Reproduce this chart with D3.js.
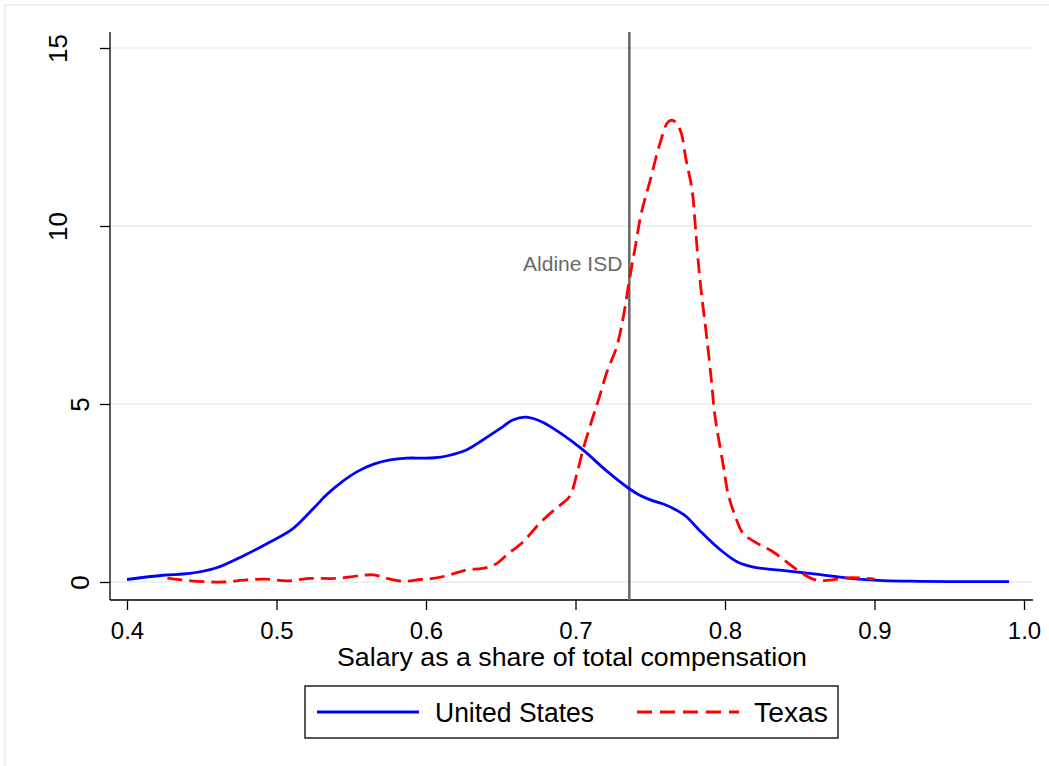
<!DOCTYPE html>
<html>
<head>
<meta charset="utf-8">
<script src="https://cdn.jsdelivr.net/npm/d3@7"></script>
<style>
  body { margin: 0; background: #fff; }
  text { font-family: "Liberation Sans", Arial, sans-serif; fill: #000; }
</style>
</head>
<body>
<div id="chart"></div>
<script>
// Kernel density of salary share: United States
const usShare = [0.400, 0.424, 0.442, 0.460, 0.478, 0.496, 0.511, 0.525, 0.534, 0.544,
  0.554, 0.565, 0.576, 0.587, 0.600, 0.610, 0.616, 0.627, 0.638, 0.650, 0.658, 0.667,
  0.678, 0.690, 0.705, 0.720, 0.736, 0.743, 0.752, 0.760, 0.767, 0.774, 0.783, 0.797,
  0.808, 0.819, 0.841, 0.861, 0.884, 0.906, 0.930, 0.960, 0.990];
const usDensity = [0.07, 0.19, 0.24, 0.40, 0.74, 1.13, 1.50, 2.08, 2.47, 2.82,
  3.10, 3.31, 3.43, 3.48, 3.48, 3.51, 3.56, 3.71, 3.99, 4.32, 4.55, 4.63,
  4.49, 4.18, 3.71, 3.15, 2.62, 2.44, 2.28, 2.17, 2.03, 1.84, 1.45, 0.90,
  0.57, 0.42, 0.31, 0.22, 0.10, 0.04, 0.02, 0.01, 0.01];

// Kernel density of salary share: Texas
const txShare = [0.427, 0.447, 0.464, 0.480, 0.493, 0.507, 0.522, 0.540, 0.556, 0.565,
  0.574, 0.585, 0.596, 0.605, 0.616, 0.627, 0.638, 0.647, 0.654, 0.665, 0.676, 0.687,
  0.696, 0.701, 0.705, 0.711, 0.716, 0.721, 0.7275, 0.732, 0.736, 0.740, 0.744, 0.750,
  0.7565, 0.762, 0.7655, 0.770, 0.774, 0.778, 0.780, 0.782, 0.7845, 0.788, 0.791, 0.793,
  0.7955, 0.799, 0.802, 0.807, 0.812, 0.821, 0.832, 0.841, 0.850, 0.859, 0.866, 0.875,
  0.885, 0.900];
const txDensity = [0.11, 0.02, 0.00, 0.06, 0.08, 0.03, 0.10, 0.10, 0.18, 0.20,
  0.10, 0.02, 0.07, 0.10, 0.20, 0.34, 0.38, 0.51, 0.76, 1.13, 1.65, 2.07,
  2.40, 3.05, 3.71, 4.55, 5.20, 5.90, 6.60, 7.45, 8.48, 9.42, 10.36, 11.29,
  12.32, 12.93, 12.96, 12.70, 11.85, 11.01, 10.08, 9.04, 8.01, 6.80, 5.62, 4.75,
  4.08, 3.24, 2.49, 1.83, 1.37, 1.10, 0.85, 0.57, 0.29, 0.08, 0.04, 0.08,
  0.12, 0.08];

const xTicks = [0.4, 0.5, 0.6, 0.7, 0.8, 0.9, 1.0];
const yTicks = [0, 5, 10, 15];
const aldineShare = 0.736;
const seriesNames = ["United States", "Texas"];

const width = 1049, height = 766;
const plotLeft = 110, plotRight = 1033, plotTop = 32, plotBottom = 600;

const svg = d3.select("#chart").append("svg")
  .attr("width", width)
  .attr("height", height);

// outer frame (Stata graph region)
svg.append("rect")
  .attr("x", 5).attr("y", 5)
  .attr("width", width + 10).attr("height", height + 10)
  .attr("fill", "#fff")
  .attr("stroke", "#eaf2f3")
  .attr("stroke-width", 2);

const x = d3.scaleLinear().domain([0.4, 1.0]).range([127, 1024]);
const y = d3.scaleLinear().domain([0, 15]).range([582, 48]);

// gridlines
svg.append("g")
  .selectAll("line")
  .data(yTicks)
  .join("line")
  .attr("x1", plotLeft).attr("x2", plotRight)
  .attr("y1", d => y(d)).attr("y2", d => y(d))
  .attr("stroke", "#eaf2f3")
  .attr("stroke-width", 2);

// x axis
const xAxis = svg.append("g")
  .attr("transform", `translate(0,${plotBottom})`)
  .call(d3.axisBottom(x).tickValues(xTicks).tickSize(10).tickPadding(10)
    .tickFormat(d3.format(".1f")));
xAxis.select(".domain").remove();
xAxis.selectAll(".tick line").attr("stroke", "#000").attr("stroke-width", 1.3);
xAxis.selectAll(".tick text")
  .attr("font-size", 24)
  .attr("font-family", "Liberation Sans, Arial, sans-serif")
  .attr("fill", "#000")
  .attr("dy", null)
  .attr("y", 39);
svg.append("line")
  .attr("x1", plotLeft).attr("x2", plotRight)
  .attr("y1", plotBottom).attr("y2", plotBottom)
  .attr("stroke", "#000").attr("stroke-width", 1.3);

// y axis
const yAxis = svg.append("g")
  .attr("transform", `translate(${plotLeft},0)`)
  .call(d3.axisLeft(y).tickValues(yTicks).tickSize(10));
yAxis.select(".domain").remove();
yAxis.selectAll(".tick line").attr("stroke", "#000").attr("stroke-width", 1.3);
yAxis.selectAll(".tick text")
  .attr("font-size", 26)
  .attr("font-family", "Liberation Sans, Arial, sans-serif")
  .attr("fill", "#000")
  .attr("text-anchor", "middle")
  .attr("dy", null)
  .attr("x", null)
  .attr("transform", d => `translate(${d >= 10 ? -43 : -21},0) rotate(-90)`);
svg.append("line")
  .attr("x1", plotLeft).attr("x2", plotLeft)
  .attr("y1", plotTop).attr("y2", plotBottom)
  .attr("stroke", "#000").attr("stroke-width", 1.3);

// x axis title
svg.append("text")
  .attr("x", 572).attr("y", 666)
  .attr("text-anchor", "middle")
  .attr("font-size", 25)
  .attr("textLength", 470)
  .attr("lengthAdjust", "spacingAndGlyphs")
  .text("Salary as a share of total compensation");

// Aldine ISD reference line
svg.append("line")
  .attr("x1", x(aldineShare)).attr("x2", x(aldineShare))
  .attr("y1", plotTop).attr("y2", plotBottom)
  .attr("stroke", "#666").attr("stroke-width", 2.5);
svg.append("text")
  .attr("x", x(aldineShare) - 7).attr("y", 271)
  .attr("text-anchor", "end")
  .attr("font-size", 21)
  .style("fill", "#6a6a6a")
  .text("Aldine ISD");

const line = d3.line()
  .x(d => x(d[0]))
  .y(d => y(d[1]))
  .curve(d3.curveCatmullRom.alpha(0.5));

const usData = usShare.map((s, i) => [s, usDensity[i]]);
const txData = txShare.map((s, i) => [s, txDensity[i]]);

svg.append("path")
  .datum(usData)
  .attr("d", line)
  .attr("fill", "none")
  .attr("stroke", "#0000ff")
  .attr("stroke-width", 2.8);

svg.append("path")
  .datum(txData)
  .attr("d", line)
  .attr("fill", "none")
  .attr("stroke", "#ff0000")
  .attr("stroke-width", 2.8)
  .attr("stroke-dasharray", "15,7");

// legend
const legend = svg.append("g");
legend.append("rect")
  .attr("x", 305).attr("y", 686)
  .attr("width", 533).attr("height", 52)
  .attr("fill", "#fff")
  .attr("stroke", "#000")
  .attr("stroke-width", 1.3);

const legendItems = [
  { name: seriesNames[0], color: "#0000ff", dash: null, x0: 317, tx: 435, tw: 159 },
  { name: seriesNames[1], color: "#ff0000", dash: "15,8", x0: 637, tx: 754, tw: 74 },
];
legendItems.forEach(d => {
  legend.append("line")
    .attr("x1", d.x0).attr("x2", d.x0 + 102)
    .attr("y1", 712).attr("y2", 712)
    .attr("stroke", d.color)
    .attr("stroke-width", 2.8)
    .attr("stroke-dasharray", d.dash);
  legend.append("text")
    .attr("x", d.tx).attr("y", 722)
    .attr("font-size", 27)
    .attr("textLength", d.tw)
    .attr("lengthAdjust", "spacingAndGlyphs")
    .text(d.name);
});
</script>
</body>
</html>
